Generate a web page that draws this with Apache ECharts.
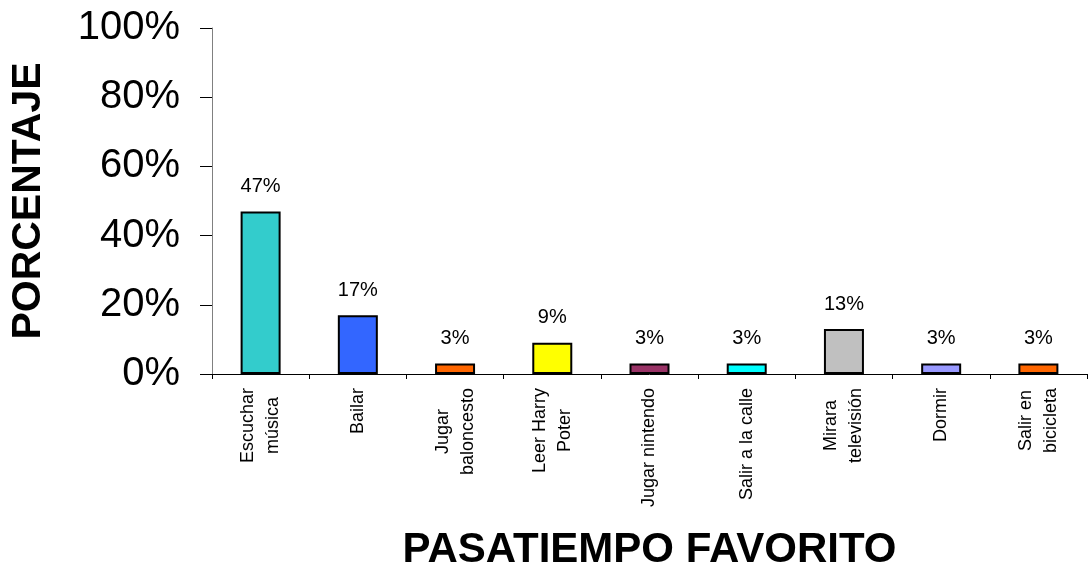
<!DOCTYPE html>
<html>
<head>
<meta charset="utf-8">
<script src="https://cdn.jsdelivr.net/npm/echarts@6/dist/echarts.min.js"></script>
<style>
html,body{margin:0;padding:0;background:#fff;}
#chart{width:1089px;height:566px;}
</style>
</head>
<body>
<div id="chart"></div>
<script>
const categories = ['Escuchar\nmúsica', 'Bailar', 'Jugar\nbaloncesto', 'Leer Harry\nPoter', 'Jugar nintendo', 'Salir a la calle', 'Mirara\ntelevisión', 'Dormir', 'Salir en\nbicicleta'];
const values = [47, 17, 3, 9, 3, 3, 13, 3, 3];
const yTicks = [0, 20, 40, 60, 80, 100];
const barColors = ['#33CCCC', '#3366FF', '#FF6600', '#FFFF00', '#993366', '#00FFFF', '#C0C0C0', '#9999FF', '#FF6600'];

const FONT = "'Liberation Sans', Arial, Helvetica, sans-serif";
const chart = echarts.init(document.getElementById('chart'), null, {renderer: 'canvas'});
chart.setOption({
  backgroundColor: '#ffffff',
  animation: false,
  grid: {left: 212, right: 2, top: 28, bottom: 192, containLabel: false, outerBoundsMode: 'none'},
  xAxis: {
    type: 'category',
    data: categories,
    name: 'PASATIEMPO FAVORITO',
    nameLocation: 'middle',
    nameGap: 155,
    nameTextStyle: {fontFamily: FONT, fontSize: 42, fontWeight: 'bold', color: '#000'},
    axisLine: {lineStyle: {color: '#000', width: 1}},
    axisTick: {show: true, length: 5, lineStyle: {color: '#000'}},
    axisLabel: {
      rotate: 90,
      margin: 14,
      interval: 0,
      color: '#000',
      fontFamily: FONT,
      fontSize: 18,
      lineHeight: 25,
      formatter: v => v.split('\n').map(l => '{c|' + l + '}').join('\n'),
      rich: {c: {align: 'center', fontFamily: FONT, fontSize: 18, lineHeight: 25, color: '#000'}}
    }
  },
  yAxis: {
    type: 'value',
    min: yTicks[0],
    max: yTicks[yTicks.length - 1],
    interval: yTicks[1] - yTicks[0],
    name: 'PORCENTAJE',
    nameLocation: 'middle',
    nameRotate: 90,
    nameGap: 163,
    nameTextStyle: {fontFamily: FONT, fontSize: 41, fontWeight: 'bold', color: '#000'},
    axisLine: {show: true, lineStyle: {color: '#808080', width: 1}},
    axisTick: {show: true, length: 12, lineStyle: {color: '#000'}},
    splitLine: {show: false},
    axisLabel: {margin: 32, color: '#000', fontFamily: FONT, fontSize: 40, formatter: '{value}%'}
  },
  series: [{
    type: 'bar',
    barWidth: 40,
    data: values.map((v, i) => ({value: v, itemStyle: {color: barColors[i]}})),
    itemStyle: {borderColor: '#000', borderWidth: 2},
    label: {show: true, position: 'top', distance: 15, formatter: '{c}%', color: '#000', fontFamily: FONT, fontSize: 20}
  }]
});
</script>
</body>
</html>
